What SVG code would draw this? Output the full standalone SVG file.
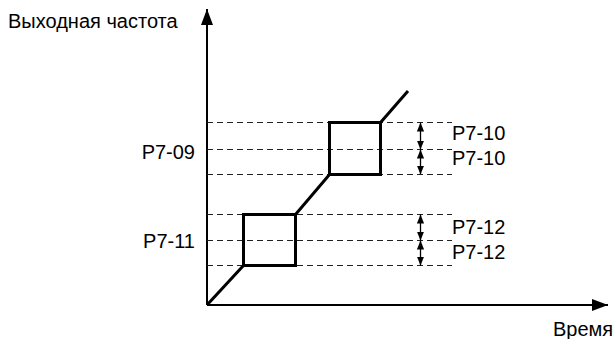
<svg xmlns="http://www.w3.org/2000/svg" width="615" height="339" viewBox="0 0 615 339">
<defs>
<marker id="ah" viewBox="0 0 10 10" refX="10" refY="5" markerWidth="9" markerHeight="9" markerUnits="userSpaceOnUse" orient="auto-start-reverse"><path d="M0,1 L10,5 L0,9 Z" fill="#000"/></marker>
<marker id="axh" viewBox="0 0 16 12" refX="16" refY="6" markerWidth="16" markerHeight="12" markerUnits="userSpaceOnUse" orient="auto"><path d="M0,0 L16,6 L0,12 Z" fill="#000"/></marker>
</defs>
<style>
text{font-family:"Liberation Sans",Arial,sans-serif;font-size:20px;fill:#000}
.dash{stroke:#222;stroke-width:1;stroke-dasharray:6,4;fill:none}
.thick{stroke:#000;stroke-width:3;fill:none}
.axis{stroke:#000;stroke-width:2;fill:none}
.dim{stroke:#000;stroke-width:1.3;fill:none;marker-start:url(#ah);marker-end:url(#ah)}
</style>
<g id="axes">
<line class="axis" x1="207" y1="305" x2="207" y2="9" marker-end="url(#axh)"/>
<line class="axis" x1="207" y1="305" x2="608" y2="305" marker-end="url(#axh)"/>
<text x="8" y="28">Выходная частота</text>
<text x="553" y="336">Время</text>
</g>
<g id="guides">
<line class="dash" x1="207" y1="122.5" x2="452" y2="122.5"/>
<line class="dash" x1="207" y1="149.5" x2="452" y2="149.5"/>
<line class="dash" x1="207" y1="174.5" x2="452" y2="174.5"/>
<line class="dash" x1="207" y1="214.5" x2="452" y2="214.5"/>
<line class="dash" x1="207" y1="240.5" x2="452" y2="240.5"/>
<line class="dash" x1="207" y1="265.5" x2="452" y2="265.5"/>
</g>
<g id="curve">
<polyline class="thick" points="207,305 243.5,265.5 295.5,265.5 295.5,214.5 243.5,214.5 243.5,265.5"/>
<polyline class="thick" points="295.5,214.5 329.5,174.5 380.5,174.5 380.5,122.5 329.5,122.5 329.5,174.5"/>
<line class="thick" x1="380.5" y1="122.5" x2="408" y2="91"/>
</g>
<g id="connectors">
<line class="dim" x1="420.5" y1="122.5" x2="420.5" y2="149.5"/>
<line class="dim" x1="420.5" y1="149.5" x2="420.5" y2="174.5"/>
<line class="dim" x1="420.5" y1="214.5" x2="420.5" y2="240.5"/>
<line class="dim" x1="420.5" y1="240.5" x2="420.5" y2="265.5"/>
</g>
<g id="labels">
<text x="195" y="159" text-anchor="end">P7-09</text>
<text x="195" y="248" text-anchor="end">P7-11</text>
<text x="452" y="140">P7-10</text>
<text x="452" y="165">P7-10</text>
<text x="452" y="234">P7-12</text>
<text x="452" y="259">P7-12</text>
</g>
</svg>
